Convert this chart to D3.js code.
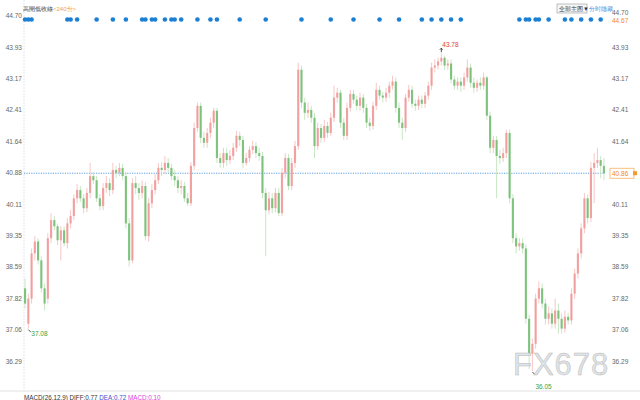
<!DOCTYPE html>
<html><head><meta charset="utf-8">
<script src="https://cdn.jsdelivr.net/npm/d3@7"></script>
<style>body{margin:0;background:#fff}svg{display:block}text{font-family:"Liberation Sans",Arial,sans-serif}</style>
</head><body><svg id="c" width="640" height="400"></svg>
<script>
// y-axis tick labels
const tickValues = [44.70, 43.93, 43.17, 42.41, 41.64, 40.88, 40.11, 39.35, 38.59, 37.82, 37.06, 36.29];
// candles: [open, high, low, close] (240-minute bars)
const ohlcRows = [
[38.06,38.30,37.57,37.69],[37.20,37.93,37.08,37.81],[37.81,39.03,37.69,38.91],[38.91,39.33,38.74,39.20],[39.20,39.28,38.64,38.74],
[38.74,38.84,37.96,38.06],[38.06,38.18,37.52,37.69],[37.81,39.40,37.69,39.28],[39.28,39.89,39.16,39.72],[39.72,39.82,39.47,39.57],
[39.57,39.64,39.11,39.23],[39.23,39.57,38.74,39.47],[39.47,39.57,39.08,39.16],[39.16,39.77,39.03,39.64],[39.64,39.96,39.52,39.82],
[39.82,40.35,39.72,40.25],[40.25,40.60,40.13,40.45],[40.45,40.55,40.16,40.25],[40.25,40.35,39.89,40.01],[40.01,40.50,39.91,40.38],
[40.38,41.11,40.25,40.79],[40.79,40.89,40.60,40.69],[40.69,40.79,40.16,40.25],[40.25,40.35,39.96,40.06],[40.06,40.62,39.96,40.50],
[40.50,40.79,40.38,40.62],[40.62,40.74,40.30,40.45],[40.45,41.11,40.35,40.94],[40.94,41.04,40.74,40.87],[40.87,41.11,40.79,40.99],
[40.99,41.09,40.69,40.79],[40.79,40.89,39.52,39.64],[39.64,39.77,38.59,38.74],[38.74,40.74,38.67,40.62],[40.62,40.79,40.35,40.50],
[40.50,40.62,40.21,40.38],[40.38,40.69,40.25,40.55],[40.55,40.65,39.23,39.33],[39.33,40.25,39.20,40.13],[40.13,40.60,40.01,40.45],
[40.45,40.84,40.35,40.69],[40.69,41.11,40.60,40.99],[40.99,41.13,40.79,40.94],[40.94,41.28,40.84,41.11],[41.11,41.23,40.87,40.99],
[40.99,41.09,40.69,40.79],[40.79,40.94,40.55,40.69],[40.69,40.79,40.38,40.50],[40.50,40.69,40.35,40.55],[40.55,40.65,40.16,40.25],
[40.25,40.38,40.06,40.13],[40.13,41.13,40.06,41.04],[41.04,42.09,40.94,41.96],[41.96,42.58,41.87,42.50],[42.50,42.58,41.60,41.72],
[41.72,41.87,41.48,41.60],[41.60,41.96,41.48,41.84],[41.84,42.21,41.72,42.09],[42.09,42.45,41.96,42.38],[42.38,42.45,41.11,41.23],
[41.23,41.35,40.99,41.11],[41.11,41.48,40.99,41.35],[41.35,41.48,41.04,41.18],[41.18,41.43,41.09,41.28],[41.28,41.60,41.18,41.48],
[41.48,41.89,41.38,41.77],[41.77,41.87,41.52,41.67],[41.67,41.77,40.99,41.11],[41.11,41.35,41.04,41.23],[41.23,41.52,41.13,41.43],
[41.43,41.65,41.33,41.52],[41.52,41.62,41.23,41.35],[41.35,41.48,41.16,41.28],[41.28,41.38,40.25,40.38],[40.38,40.50,38.84,39.96],
[39.96,40.40,39.86,40.25],[40.25,40.38,39.89,40.01],[40.01,40.50,39.91,40.38],[40.38,40.50,39.82,39.89],[39.89,40.99,39.82,40.87],
[40.87,41.35,40.74,41.23],[41.23,41.33,40.45,40.55],[40.55,41.23,40.45,41.11],[41.11,41.65,40.99,41.52],[41.52,43.55,41.43,43.38],
[43.38,43.48,42.45,42.58],[42.58,42.70,42.16,42.33],[42.33,42.58,42.21,42.40],[42.40,42.50,42.09,42.21],[42.21,42.33,41.23,41.52],
[41.52,42.09,41.43,41.96],[41.96,42.06,41.60,41.72],[41.72,42.16,41.62,42.01],[42.01,42.11,41.72,41.84],[41.84,42.33,41.77,42.21],
[42.21,42.99,42.11,42.70],[42.70,42.94,42.58,42.82],[42.82,42.89,41.96,42.09],[42.09,42.21,41.67,41.77],[41.77,42.58,41.67,42.45],
[42.45,42.89,42.36,42.79],[42.79,42.89,42.55,42.65],[42.65,42.75,42.40,42.50],[42.50,42.82,42.38,42.70],[42.70,42.79,42.33,42.45],
[42.45,42.55,41.96,42.09],[42.09,42.21,41.89,42.01],[42.01,42.60,41.92,42.50],[42.50,43.06,42.40,42.89],[42.89,42.99,42.65,42.75],
[42.75,42.84,42.58,42.70],[42.70,42.94,42.60,42.82],[42.82,43.09,42.70,42.99],[42.99,43.23,42.89,43.09],[43.09,43.19,42.33,42.45],
[42.45,42.58,41.96,42.09],[42.09,42.21,41.67,41.96],[41.96,42.79,41.87,42.70],[42.70,43.01,42.60,42.89],[42.89,42.99,42.45,42.55],
[42.55,42.65,42.38,42.50],[42.50,42.75,42.40,42.65],[42.65,42.75,42.45,42.55],[42.55,42.84,42.45,42.75],[42.75,43.09,42.65,42.99],
[42.99,43.55,42.89,43.43],[43.43,43.63,43.31,43.48],[43.48,43.67,43.38,43.58],[43.58,43.78,43.48,43.67],[43.67,43.72,43.38,43.48],
[43.48,43.63,43.38,43.53],[43.53,43.63,43.04,43.14],[43.14,43.23,42.89,42.99],[42.99,43.19,42.89,43.09],[43.09,43.19,42.84,42.99],
[42.99,43.31,42.89,43.19],[43.19,43.63,43.09,43.43],[43.43,43.53,42.94,43.06],[43.06,43.19,42.82,42.94],[42.94,43.14,42.84,43.06],
[43.06,43.19,42.89,42.99],[42.99,43.31,42.89,43.19],[43.19,43.23,42.16,42.26],[42.26,42.36,41.35,41.48],[41.48,41.77,41.35,41.67],
[41.67,41.77,40.25,41.28],[41.28,41.43,41.09,41.23],[41.23,41.48,41.13,41.35],[41.35,41.92,41.23,41.84],[41.84,41.92,40.13,40.25],
[40.25,40.35,39.16,39.28],[39.28,39.40,38.91,39.08],[39.08,39.28,38.98,39.16],[39.16,39.28,38.91,39.03],[39.03,39.13,37.20,37.32],
[37.32,37.42,36.10,36.47],[36.47,36.84,36.05,36.71],[36.71,37.93,36.59,37.81],[37.81,38.23,37.69,38.06],[38.06,38.18,37.57,37.69],
[37.69,37.81,37.18,37.32],[37.32,37.62,37.18,37.45],[37.45,37.57,37.08,37.20],[37.20,37.81,37.08,37.52],[37.52,37.69,36.96,37.32],
[37.32,37.45,36.96,37.08],[37.08,37.52,36.98,37.37],[37.37,37.47,37.18,37.28],[37.28,38.06,37.18,37.93],[37.93,38.54,37.81,38.42],
[38.42,39.03,38.30,38.91],[38.91,39.64,38.79,39.52],[39.52,40.38,39.40,40.25],[40.25,40.35,39.64,39.77],[39.77,41.13,39.67,40.99],
[40.99,41.35,40.13,41.11],[41.11,41.48,40.99,41.18],[41.18,41.28,40.74,41.04],[41.04,41.23,40.69,40.86]
];
// bars carrying a signal marker (top row dots)
const signalIdx = [0,1,2,13,14,16,22,27,31,36,37,39,40,43,45,46,48,53,57,59,66,74,85,94,101,109,115,122,125,128,131,134,152,154,155,157,158,161,166,168,171,174,177];
const lastPrice = 40.86;
const topRightPrices = ["44.70", "44.67"];
const highMark = {index: 128, value: 43.78};
const lowMarks = [{index: 1, value: 37.08, dy: 7}, {index: 156, value: 36.05, dy: 18}];
const titleText = ["高開低收線", "<240分>"];
const macdText = ["MACD(26,12,9) DIFF:0.77", "DEA:0.72", "MACD:0.10"];

const svg = d3.select("#c");
const L = 24, R = 605;
const x = d3.scaleBand().domain(d3.range(ohlcRows.length)).range([L, R]).paddingInner(0.34);
const y = d3.scaleLinear().domain([36.29, 44.70]).range([361.1, 15.4]);
const bw = x.bandwidth();
const cx = i => x(i) + bw / 2;

// frame lines
svg.append("line").attr("x1", L).attr("x2", L).attr("y1", 0).attr("y2", 391)
  .attr("stroke", "#dfe8f0").attr("stroke-dasharray", "2,1");
svg.append("line").attr("x1", 0).attr("x2", 640).attr("y1", 391).attr("y2", 391).attr("stroke", "#e2e2e2");

// axes
const fmt = d3.format(".2f");
const gl = svg.append("g").attr("transform", `translate(${L - 1},0)`)
  .call(d3.axisLeft(y).tickValues(tickValues).tickSize(0).tickPadding(1).tickFormat(fmt));
const gr = svg.append("g").attr("transform", `translate(${R + 6},0)`)
  .call(d3.axisRight(y).tickValues(tickValues.slice(1)).tickSize(0).tickPadding(1).tickFormat(fmt));
[gl, gr].forEach(g => {
  g.select(".domain").remove();
  g.selectAll("text").attr("font-size", 6.5).attr("fill", "#666").attr("font-family", "Liberation Sans, Arial");
});

// last price dotted line
svg.append("line").attr("x1", L).attr("x2", R).attr("y1", y(lastPrice)).attr("y2", y(lastPrice))
  .attr("stroke", "#5e9fe2").attr("stroke-dasharray", "1.2,1.2");

// candles
const g = svg.append("g");
ohlcRows.forEach((d, i) => {
  const [o, h, l, c] = d;
  const up = c >= o;
  g.append("line").attr("x1", cx(i)).attr("x2", cx(i))
    .attr("y1", y(Math.max(h, o, c))).attr("y2", y(Math.min(l, o, c)))
    .attr("stroke", up ? "#f7c0c0" : "#c2e3bc").attr("stroke-width", 0.9);
  const y0 = y(Math.max(o, c)), y1 = y(Math.min(o, c));
  g.append("rect").attr("x", x(i)).attr("width", bw).attr("y", y0).attr("height", Math.max(1, y1 - y0))
    .attr("fill", up ? "#f09595" : "#6dbb6d").attr("opacity", 0.85);
});

// signal dots
svg.append("g").selectAll("circle").data(signalIdx).join("circle")
  .attr("cx", d => cx(d)).attr("cy", 19.5).attr("r", 2.3).attr("fill", "#1b7fd3");

// high / low annotations
svg.append("path").attr("d", `M${cx(highMark.index)},${y(highMark.value) - 1} v-4 m-1.5,1.5 l1.5,-1.5 l1.5,1.5`)
  .attr("stroke", "#222").attr("fill", "none").attr("stroke-width", 0.8);
svg.append("text").attr("x", cx(highMark.index) + 1).attr("y", y(highMark.value) - 6)
  .attr("font-size", 6.5).attr("fill", "#e0393e").text(highMark.value.toFixed(2));
lowMarks.forEach(m => {
  svg.append("path").attr("d", `M${cx(m.index)},${y(m.value) + 1} l2.5,2.5`)
    .attr("stroke", "#222").attr("stroke-width", 0.8);
  svg.append("text").attr("x", cx(m.index) + 3).attr("y", y(m.value) + m.dy)
    .attr("font-size", 6.5).attr("fill", "#3aa23a").text(m.value.toFixed(2));
});

// right price tag
const ly = y(lastPrice);
svg.append("rect").attr("x", R + 5).attr("y", ly - 5).attr("width", 24).attr("height", 10)
  .attr("fill", "#fff").attr("stroke", "#f5b060").attr("stroke-width", 0.8);
svg.append("text").attr("x", R + 7).attr("y", ly + 2.3).attr("font-size", 6.5).attr("fill", "#f08a1c").text(lastPrice.toFixed(2));
svg.append("rect").attr("x", 633).attr("y", ly - 2).attr("width", 4).attr("height", 4).attr("fill", "#f39a2c");

// top right prices
svg.append("text").attr("x", R + 7).attr("y", 15).attr("font-size", 6.5).attr("fill", "#666").text(topRightPrices[0]);
svg.append("text").attr("x", R + 7).attr("y", 23).attr("font-size", 6.5).attr("fill", "#f08a1c").text(topRightPrices[1]);

// title
const t = svg.append("text").attr("x", 23).attr("y", 11).attr("font-size", 6)
  .attr("font-family", "Noto Sans CJK SC");
t.append("tspan").attr("fill", "#333").text(titleText[0]);
t.append("tspan").attr("fill", "#f2a23a").text(titleText[1]);

// top right controls
svg.append("rect").attr("x", 557).attr("y", 4).attr("width", 30).attr("height", 9)
  .attr("fill", "#f5f5f5").attr("stroke", "#9a9a9a").attr("stroke-width", 0.6);
svg.append("text").attr("x", 559).attr("y", 11).attr("font-size", 6).attr("fill", "#333")
  .attr("font-family", "Noto Sans CJK SC").text("全部主图▼");
svg.append("text").attr("x", 589).attr("y", 11).attr("font-size", 6).attr("fill", "#3b8fe0")
  .attr("font-family", "Noto Sans CJK SC").text("分时隐藏");

// watermark
svg.append("text").attr("x", 513).attr("y", 375).attr("font-size", 31).attr("letter-spacing", 1)
  .attr("fill", "#d3e2f2").attr("fill-opacity", 0.9).attr("stroke", "#c9b8a4").attr("stroke-width", 0.5)
  .attr("font-family", "Liberation Sans, Arial").text("FX678");

// MACD legend
const m = svg.append("text").attr("x", 24).attr("y", 399.5).attr("font-size", 6.3);
m.append("tspan").attr("fill", "#333").text(macdText[0] + " ");
m.append("tspan").attr("fill", "#3a4fd0").text(macdText[1] + " ");
m.append("tspan").attr("fill", "#e040e0").text(macdText[2]);
</script></body></html>
